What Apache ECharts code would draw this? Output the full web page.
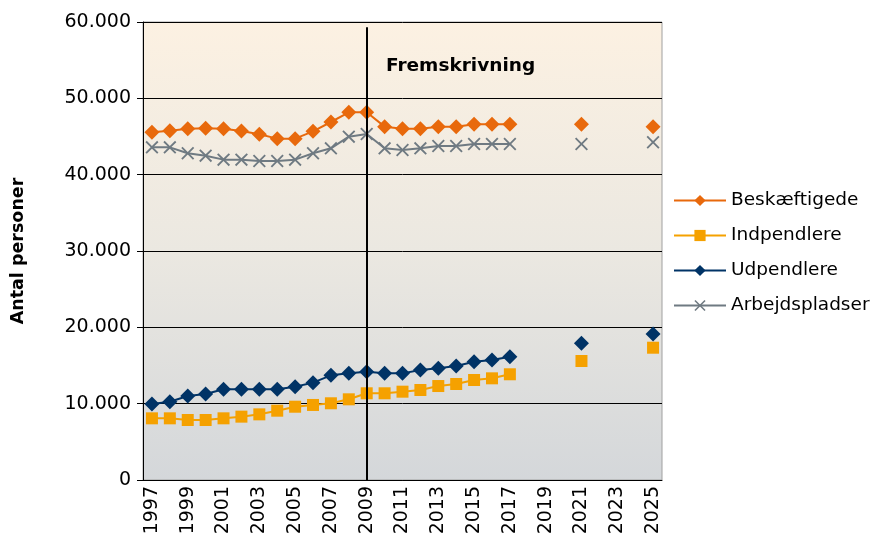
<!DOCTYPE html>
<html>
<head>
<meta charset="utf-8">
<script src="https://cdn.jsdelivr.net/npm/echarts@6/dist/echarts.min.js"></script>
<style>
  html, body { margin: 0; padding: 0; background: #fff; }
  #chart { width: 872px; height: 539px; }
</style>
</head>
<body>
<div id="chart"></div>
<script>
// kategorier (år)
var years = [];
for (var y = 1997; y <= 2025; y++) years.push(String(y));

// data (null = ingen værdi)
var beskaeftigede = [45550, 45760, 46030, 46070, 46030, 45720, 45290, 44720, 44720, 45680, 46900, 48170, 48170,
  46290, 46030, 46030, 46290, 46290, 46600, 46600, 46600, null, null, null, 46600, null, null, null, 46290];
var indpendlere = [8080, 8080, 7860, 7860, 8080, 8300, 8600, 9080, 9600, 9830, 10050, 10570, 11360,
  11360, 11570, 11790, 12310, 12580, 13100, 13320, 13850, null, null, null, 15590, null, null, null, 17330];
var udpendlere = [9960, 10260, 11000, 11270, 11880, 11880, 11880, 11880, 12230, 12750, 13710, 13970, 14190,
  13970, 13970, 14410, 14630, 14930, 15500, 15720, 16160, null, null, null, 17910, null, null, null, 19130];
var arbejdspladser = [43580, 43580, 42800, 42490, 41970, 41970, 41790, 41790, 41970, 42800, 43450, 44980, 45330,
  43450, 43230, 43450, 43760, 43760, 44020, 44020, 44020, null, null, null, 44020, null, null, null, 44240];

var font = '"DejaVu Sans", Arial, sans-serif';
var kryds = 'path://M0,1L1,0L5,4L9,0L10,1L6,5L10,9L9,10L5,6L1,10L0,9L4,5Z';

var chart = echarts.init(document.getElementById('chart'));

function serie(navn, data, farve, symbol, size) {
  return {
    name: navn,
    type: 'line',
    data: data,
    connectNulls: false,
    symbol: symbol,
    symbolSize: size,
    showAllSymbol: true,
    lineStyle: { color: farve, width: 2 },
    itemStyle: { color: farve },
    emphasis: { disabled: true }
  };
}

var option = {
  animation: false,
  textStyle: { fontFamily: font },
  grid: {
    left: 143, right: 210, top: 22, bottom: 59,
    show: true,
    borderColor: '#a0a0a0',
    borderWidth: 1,
    backgroundColor: new echarts.graphic.LinearGradient(0, 0, 0, 1, [
      { offset: 0, color: '#fcf1e2' },
      { offset: 0.5, color: '#ebe8e1' },
      { offset: 1, color: '#d4d7da' }
    ])
  },
  legend: {
    orient: 'vertical',
    left: 668,
    top: 186,
    itemWidth: 52,
    itemHeight: 14,
    itemGap: 16,
    textStyle: { fontFamily: font, fontSize: 18.5, color: '#000' },
    data: ['Beskæftigede', 'Indpendlere', 'Udpendlere', 'Arbejdspladser']
  },
  xAxis: {
    type: 'category',
    data: years,
    boundaryGap: true,
    axisLine: { lineStyle: { color: '#000', width: 1 } },
    axisTick: { interval: 0, length: 6, lineStyle: { color: '#000' } },
    axisLabel: {
      interval: 1,
      rotate: 90,
      fontSize: 19,
      color: '#000',
      fontFamily: font,
      margin: 6
    },
    splitLine: { show: false }
  },
  yAxis: {
    type: 'value',
    min: 0,
    max: 60000,
    interval: 10000,
    name: 'Antal personer',
    nameLocation: 'middle',
    nameGap: 116,
    nameTextStyle: { fontFamily: font, fontSize: 17.5, fontWeight: 'bold', color: '#000' },
    axisLine: { show: true, lineStyle: { color: '#000', width: 1 } },
    axisTick: { show: true, length: 6, lineStyle: { color: '#000' } },
    axisLabel: {
      fontSize: 19,
      color: '#000',
      fontFamily: font,
      margin: 12,
      formatter: function (v) {
        return v === 0 ? '0' : String(v).replace(/\B(?=(\d{3})+(?!\d))/g, '.');
      }
    },
    splitLine: { lineStyle: { color: '#000', width: 1 } }
  },
  graphic: [{
    type: 'text',
    left: 386,
    top: 57,
    style: { text: 'Fremskrivning', font: 'bold 18.5px ' + font, fill: '#000' }
  }],
  series: [
    Object.assign(serie('Beskæftigede', beskaeftigede, '#e8690c', 'diamond', 15), {
      markLine: {
        silent: true,
        symbol: 'none',
        label: { show: false },
        lineStyle: { color: '#000', width: 2, type: 'solid' },
        data: [[{ coord: ['2009', 59300] }, { coord: ['2009', 0] }]]
      }
    }),
    serie('Indpendlere', indpendlere, '#f5a100', 'rect', 12),
    serie('Udpendlere', udpendlere, '#003366', 'diamond', 15),
    serie('Arbejdspladser', arbejdspladser, '#6f7a82', kryds, 13)
  ]
};

chart.setOption(option);
</script>
</body>
</html>
